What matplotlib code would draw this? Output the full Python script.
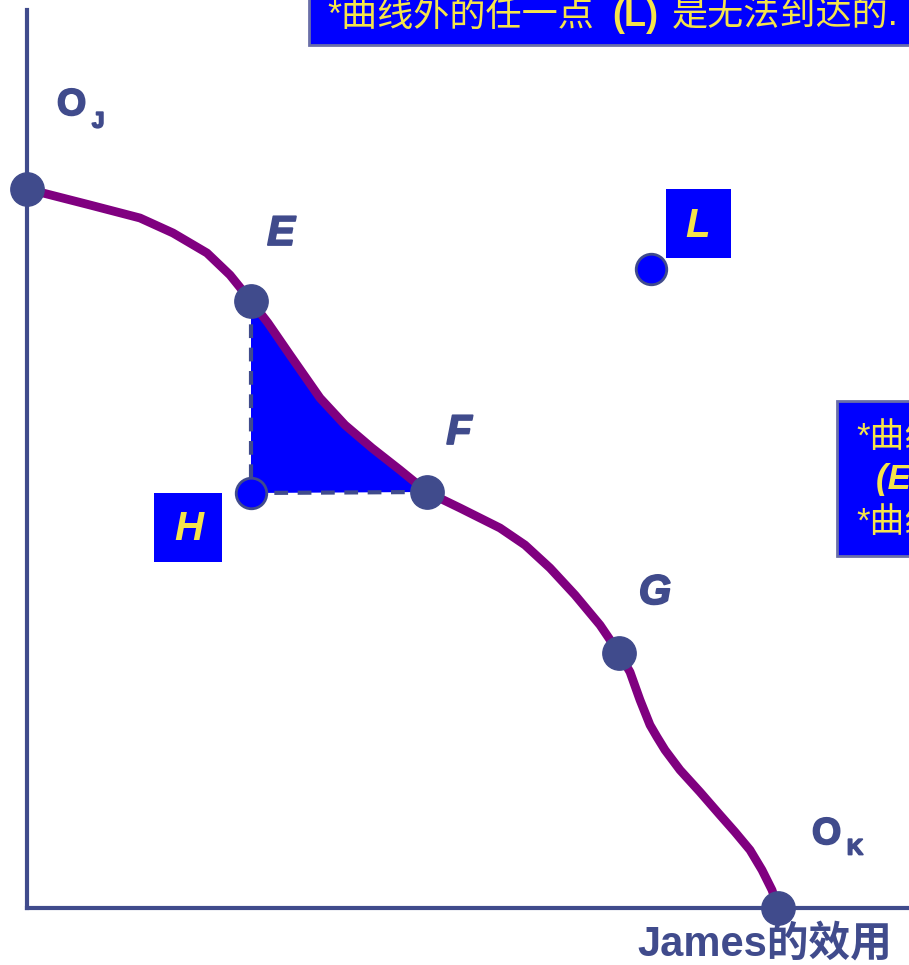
import numpy as np
import matplotlib.pyplot as plt
import matplotlib.patheffects as pe
from matplotlib.patches import Rectangle, Polygon

plt.rcParams['font.family'] = ['Liberation Sans', 'Noto Sans CJK SC', 'DejaVu Sans']

# utility possibility frontier, in picture pixel units (x right, y down)
curve_x = [27, 43, 90, 140, 173, 207, 230, 251, 268, 290, 320, 345, 372, 400, 427,
           460, 500, 525, 550, 575, 600, 619, 630, 640, 650, 657, 665, 680, 700, 720,
           735, 750, 762, 772, 778]
curve_y = [189, 193, 205, 218, 233, 253, 275, 301, 323, 355, 398, 425, 448, 470, 492,
           508, 528, 545, 568, 595, 625, 653, 672, 700, 725, 737, 750, 770, 792, 815,
           832, 850, 870, 890, 908]

pts_names = ['E', 'F', 'G']
pts_x = [251, 427, 619]
pts_y = [301, 492, 653]
H = (251, 493)
L = (651, 269)
OJ = (27, 189)
OK = (778, 908)

navy = '#404B8C'
purple = '#800080'
blue = '#0000FF'
yellow = '#F5E44A'

fig = plt.figure(figsize=(9.09, 9.65), dpi=100)
ax = fig.add_axes([0, 0, 1, 1])
ax.set_xlim(0, 909)
ax.set_ylim(965, 0)
ax.axis('off')

# shaded triangle E-H-F
cx = np.array(curve_x)
cy = np.array(curve_y)
sel = (cx >= pts_x[0]) & (cx <= pts_x[1])
tri = list(zip(cx[sel], cy[sel])) + [H]
ax.add_patch(Polygon(tri, closed=True, facecolor=blue, edgecolor='none', zorder=1))

# axes
ax.plot([27, 27], [10, 908], color=navy, lw=3, zorder=2)
ax.plot([27, 909], [908, 908], color=navy, lw=3, zorder=2)

# dashed lines
ax.plot([pts_x[0], H[0]], [pts_y[0], H[1]], color=navy, lw=3, ls=(0, (3.3, 2.3)), zorder=2)
ax.plot([H[0], pts_x[1]], [H[1], pts_y[1]], color=navy, lw=3, ls=(0, (3.3, 2.3)), zorder=2)

ax.plot(curve_x, curve_y, color=purple, lw=6.3, solid_joinstyle='round',
        solid_capstyle='round', zorder=3)

ax.plot(pts_x + [OJ[0], OK[0]], pts_y + [OJ[1], OK[1]], 'o', color=navy, ms=24, zorder=4)
ax.plot([H[0]], [H[1]], 'o', mfc=blue, mec=navy, mew=2, ms=22, zorder=4)
ax.plot([L[0]], [L[1]], 'o', mfc=blue, mec=navy, mew=2, ms=22, zorder=4)

thick = [pe.withStroke(linewidth=1.3, foreground=navy)]
lab_kw = dict(color=navy, fontsize=30, fontweight='bold', style='italic', ha='center',
              va='center', path_effects=thick)
for name, x, y in zip(pts_names, [281, 459, 655], [234, 433, 593]):
    ax.text(x, y, name, **lab_kw)

sub_kw = dict(color=navy, fontweight='bold', ha='left', va='center', path_effects=thick)
ax.text(57, 105, 'O', fontsize=27, **sub_kw)
ax.text(92, 122, 'J', fontsize=16, **sub_kw)
ax.text(812, 834, 'O', fontsize=27, **sub_kw)
ax.text(847, 849, 'K', fontsize=16, **sub_kw)

# boxed labels
ax.add_patch(Rectangle((666, 189), 65, 69, facecolor=blue, edgecolor='none', zorder=5))
ax.text(698, 226, 'L', color=yellow, fontsize=29, fontweight='bold', style='italic',
        ha='center', va='center', zorder=6)
ax.add_patch(Rectangle((154, 493), 68, 69, facecolor=blue, edgecolor='none', zorder=5))
ax.text(189, 529, 'H', color=yellow, fontsize=29, fontweight='bold', style='italic',
        ha='center', va='center', zorder=6)

# text boxes
ax.add_patch(Rectangle((309, -10), 640, 55, facecolor=blue, edgecolor='#6A6FA8', lw=2, zorder=5))
ax.text(327, 16, '*曲线外的任一点', color=yellow, fontsize=26, ha='left', va='center', zorder=6)
ax.text(612, 16, '(L)', color=yellow, fontsize=26, fontweight='bold', ha='left', va='center', zorder=6)
ax.text(672, 16, '是无法到达的.', color=yellow, fontsize=26, ha='left', va='center', zorder=6)
ax.add_patch(Rectangle((837, 401), 120, 155, facecolor=blue, edgecolor='#6A6FA8', lw=2, zorder=5))
ax.text(856, 437, '*曲线上的点', color=yellow, fontsize=25, ha='left', va='center', zorder=6)
ax.text(876, 480, '(E, F, G)', color=yellow, fontsize=25, fontweight='bold', style='italic',
        ha='left', va='center', zorder=6)
ax.text(856, 522, '*曲线内的点', color=yellow, fontsize=25, ha='left', va='center', zorder=6)

ax.text(637, 945, 'James的效用', color=navy, fontsize=30, fontweight='bold',
        ha='left', va='center')

fig.savefig('out.png', dpi=100)
